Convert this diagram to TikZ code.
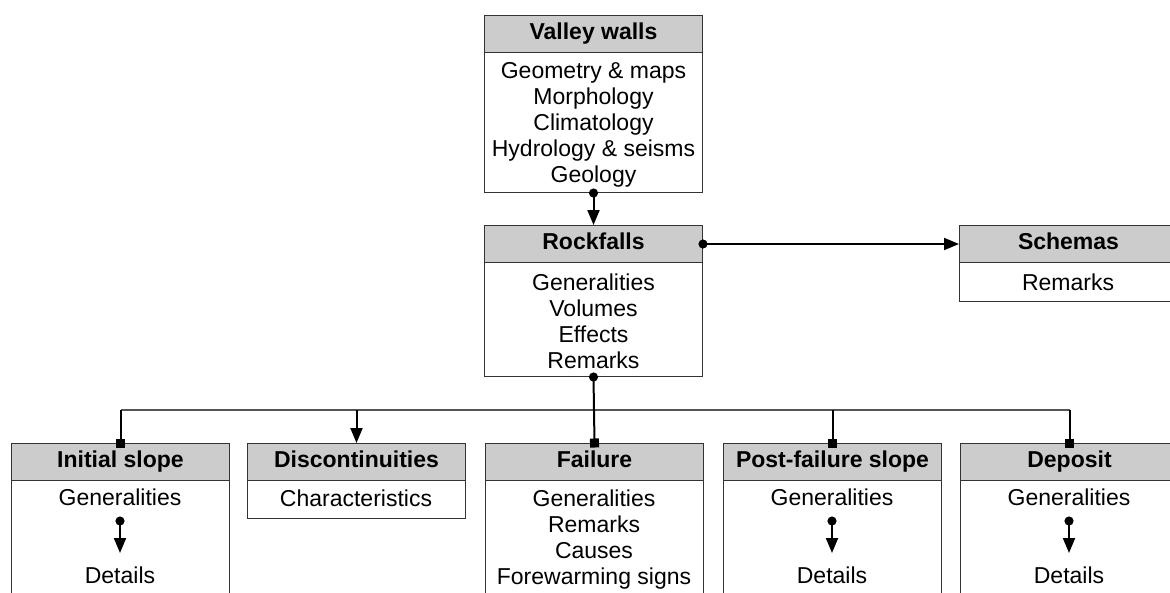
\documentclass[tikz,border=0pt]{standalone}
\usepackage{fontspec}
\setmainfont{Liberation Sans}
\usetikzlibrary{arrows.meta}
\definecolor{hdrgray}{HTML}{CCCCCC}
\definecolor{edgegray}{HTML}{333333}
\definecolor{busgray}{HTML}{555555}
\tikzset{
 bodybox/.style={draw=edgegray, line width=1pt, fill=white, minimum width=218pt, inner sep=0pt, anchor=north west},
 hdrbox/.style={draw=edgegray, line width=1pt, fill=hdrgray, minimum width=218pt, minimum height=37pt, inner sep=0pt, text height=16pt, text depth=5pt, anchor=north west, font=\fontsize{23}{26}\selectfont\bfseries},
 txt/.style={align=center, inner sep=0pt, font=\fontsize{23}{26}\selectfont},
 conn/.style={line width=2pt, black},
 dt/.style={conn, {Circle[length=9pt]}-{Triangle[length=15pt,width=12pt]}, shorten <=-4.5pt},
 dsq/.style={conn, {Circle[length=9pt]}-{Square[length=9pt]}, shorten <=-4.5pt, shorten >=-4.5pt},
 sq/.style={conn, -{Square[length=9pt]}, shorten >=-4.5pt},
 tri/.style={conn, -{Triangle[length=15pt,width=12pt]}},
 busline/.style={line width=1.2pt, busgray},
}
\begin{document}
\begin{tikzpicture}[x=1pt,y=-1pt]
\useasboundingbox (0,0) rectangle (1170,592);
\clip (0,0) rectangle (1170,592);
% Valley walls
\node[bodybox, minimum height=177pt] (vwbody) at (484,15) {};
\node[hdrbox] (vw) at (484,15) {Valley walls};
\node[txt] (vwt) at (593.5,125) {Geometry \& maps\\Morphology\\Climatology\\Hydrology \& seisms\\Geology};
% Rockfalls
\node[bodybox, minimum height=151pt] (rfbody) at (484,225) {};
\node[hdrbox] (rf) at (484,225) {Rockfalls};
\node[txt] (rft) at (593.5,321) {Generalities\\Volumes\\Effects\\Remarks};
% Schemas
\node[bodybox, minimum height=76pt] (scbody) at (959,225) {};
\node[hdrbox] (sc) at (959,225) {Schemas};
\node[txt] (sct) at (1068,282) {Remarks};
% Initial slope
\node[bodybox, minimum height=200pt] (isbody) at (11,443) {};
\node[hdrbox] (is) at (11,443) {Initial slope};
\node[txt] (isg) at (120,497.5) {Generalities};
\node[txt] (isd) at (120,575) {Details};
% Discontinuities
\node[bodybox, minimum height=75pt] (dibody) at (247,443) {};
\node[hdrbox] (di) at (247,443) {Discontinuities};
\node[txt] (dit) at (356,498) {Characteristics};
% Failure
\node[bodybox, minimum height=200pt] (fabody) at (485,443) {};
\node[hdrbox] (fa) at (485,443) {Failure};
\node[txt] (fat) at (594,540) {Generalities\\Remarks\\Causes\\Forewarming signs};
% Post-failure slope
\node[bodybox, minimum height=200pt] (pfbody) at (723,443) {};
\node[hdrbox] (pf) at (723,443) {Post-failure slope};
\node[txt] (pfg) at (832,497.5) {Generalities};
\node[txt] (pfd) at (832,575) {Details};
% Deposit
\node[bodybox, minimum height=200pt] (debody) at (960,443) {};
\node[hdrbox] (de) at (960,443) {Deposit};
\node[txt] (deg) at (1069,497.5) {Generalities};
\node[txt] (ded) at (1069,575) {Details};
% connectors
\draw[dt] (vwbody.south) -- (rf.north);
\draw[dt] (rf.east) -- (sc.west);
\coordinate (bus) at (0,410);
\draw[busline] (is.north |- bus) -- (de.north |- bus);
\draw[dsq] (rfbody.south) -- (fa.north);
\draw[sq] (is.north |- bus) -- (is.north);
\draw[tri] (di.north |- bus) -- (di.north);
\draw[sq] (pf.north |- bus) -- (pf.north);
\draw[sq] (de.north |- bus) -- (de.north);
% inner arrows
\coordinate (is1) at (120,521); \coordinate (is2) at (120,553);
\coordinate (pf1) at (832,521); \coordinate (pf2) at (832,553);
\coordinate (de1) at (1069,521); \coordinate (de2) at (1069,553);
\draw[dt] (is1) -- (is2);
\draw[dt] (pf1) -- (pf2);
\draw[dt] (de1) -- (de2);
\end{tikzpicture}
\end{document}
